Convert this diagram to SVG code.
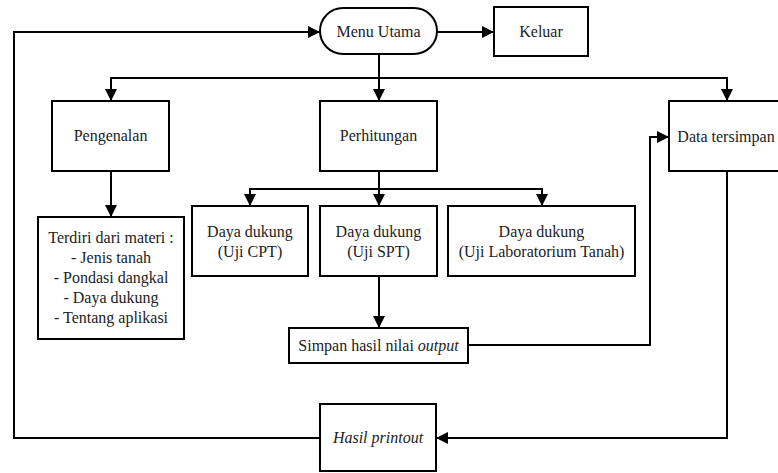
<svg xmlns="http://www.w3.org/2000/svg" width="778" height="473" viewBox="0 0 778 473">
<style>
.box{fill:#fff;stroke:#000;stroke-width:2}
.t{font-family:'Liberation Serif','Times New Roman',serif;font-size:16px;fill:#222;text-anchor:middle}
.i{font-style:italic}
.c{fill:none;stroke:#000;stroke-width:2}
</style>
<defs>
<marker id="ah" markerUnits="userSpaceOnUse" markerWidth="12" markerHeight="12" viewBox="0 0 12 12" refX="12" refY="6" orient="auto">
<path d="M0,0 L12,6 L0,12 z" fill="#000"/>
</marker>
</defs>
<g id="connectors">
<path class="c" d="M437,32 H494" marker-end="url(#ah)"/>
<path class="c" d="M379,54 V101" marker-end="url(#ah)"/>
<path class="c" d="M111,101 V78 H727 V101" marker-end="url(#ah)"/>
<path class="c" d="M111,78 V101" marker-end="url(#ah)"/>
<path class="c" d="M111,171 V217" marker-end="url(#ah)"/>
<path class="c" d="M379,171 V206" marker-end="url(#ah)"/>
<path class="c" d="M250,206 V189 H542 V206" marker-end="url(#ah)"/>
<path class="c" d="M250,189 V206" marker-end="url(#ah)"/>
<path class="c" d="M379,276 V328" marker-end="url(#ah)"/>
<path class="c" d="M468,345 H650 V137 H669" marker-end="url(#ah)"/>
<path class="c" d="M727,171 V438 H436" marker-end="url(#ah)"/>
<path class="c" d="M320,438 H14 V32 H320" marker-end="url(#ah)"/>
</g>
<g id="menu-utama">
<rect class="box" x="320" y="8" width="117" height="46" rx="23" ry="23"/>
<text class="t" x="378.5" y="37">Menu Utama</text>
</g>
<g id="keluar">
<rect class="box" x="494" y="7" width="94" height="49"/>
<text class="t" x="541" y="37">Keluar</text>
</g>
<g id="pengenalan">
<rect class="box" x="52" y="101" width="117" height="70"/>
<text class="t" x="110.5" y="141">Pengenalan</text>
</g>
<g id="perhitungan">
<rect class="box" x="320" y="101" width="117" height="70"/>
<text class="t" x="378.5" y="141">Perhitungan</text>
</g>
<g id="data-tersimpan">
<rect class="box" x="669" y="101" width="117" height="70"/>
<text class="t" x="726" y="142">Data tersimpan</text>
</g>
<g id="materi">
<rect class="box" x="38" y="217" width="146" height="122"/>
<text class="t" x="111" y="243">Terdiri dari materi :</text>
<text class="t" x="111" y="263">- Jenis tanah</text>
<text class="t" x="111" y="283">- Pondasi dangkal</text>
<text class="t" x="111" y="303">- Daya dukung</text>
<text class="t" x="111" y="323">- Tentang aplikasi</text>
</g>
<g id="uji-cpt">
<rect class="box" x="192" y="206" width="116" height="70"/>
<text class="t" x="250" y="237">Daya dukung</text>
<text class="t" x="250" y="257">(Uji CPT)</text>
</g>
<g id="uji-spt">
<rect class="box" x="320" y="206" width="117" height="70"/>
<text class="t" x="378.5" y="237">Daya dukung</text>
<text class="t" x="378.5" y="257">(Uji SPT)</text>
</g>
<g id="uji-lab">
<rect class="box" x="448" y="206" width="187" height="70"/>
<text class="t" x="541.5" y="237">Daya dukung</text>
<text class="t" x="541.5" y="257">(Uji Laboratorium Tanah)</text>
</g>
<g id="simpan">
<rect class="box" x="289" y="328" width="179" height="35"/>
<text class="t" x="378.5" y="351">Simpan hasil nilai <tspan class="i">output</tspan></text>
</g>
<g id="hasil-printout">
<rect class="box" x="320" y="404" width="116" height="67"/>
<text class="t i" x="378" y="443">Hasil printout</text>
</g>
</svg>
